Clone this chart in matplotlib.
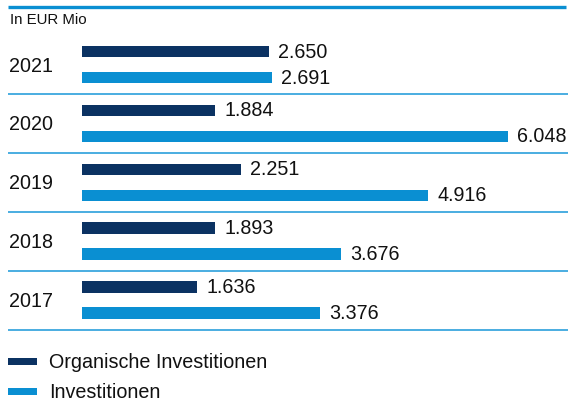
import matplotlib
matplotlib.use("Agg")
import matplotlib.pyplot as plt
from matplotlib.patches import Rectangle

years = ["2021", "2020", "2019", "2018", "2017"]
organic = [2650, 1884, 2251, 1893, 1636]
total = [2691, 6048, 4916, 3676, 3376]
labels_org = ["2.650", "1.884", "2.251", "1.893", "1.636"]
labels_tot = ["2.691", "6.048", "4.916", "3.676", "3.376"]
series_names = ["Organische Investitionen", "Investitionen"]
unit_label = "In EUR Mio"

DARK = "#0b3262"
LIGHT = "#0a8fd2"
SEP = "#3ca7de"

plt.rcParams["font.family"] = ["Liberation Sans", "DejaVu Sans"]

W, H = 570, 401
fig = plt.figure(figsize=(W / 100, H / 100), dpi=100)
ax = fig.add_axes([0, 0, 1, 1])
ax.set_axis_off()

# x mapping: 0 -> px 82, 6048 -> px 508
scale = (508 - 82) / 6048.0
ax.set_xlim(-82 / scale, (W - 82) / scale)
ax.set_ylim(H, 0)

row0 = 64.5
step = 58.9
offset = 13
bh = 11.5
centers = [row0 + i * step for i in range(len(years))]

ax.barh([c - offset for c in centers], organic, height=bh, left=0, color=DARK)
ax.barh([c + offset for c in centers], total, height=bh, left=0, color=LIGHT)

gap = 9.5 / scale
x_year = -73 / scale
fs = 14.2
for c, y, o, t, lo, lt in zip(centers, years, organic, total, labels_org, labels_tot):
    ax.text(x_year, c + 1.5, y, ha="left", va="center", fontsize=fs, color="#111111")
    ax.text(o + gap, c - offset + 0.5, lo, ha="left", va="center", fontsize=fs, color="#111111")
    ax.text(t + gap, c + offset + 0.5, lt, ha="left", va="center", fontsize=fs, color="#111111")
    ax.plot([-74 / scale, (W - 2 - 82) / scale], [c + 29.5, c + 29.5], color=SEP, lw=1.3,
            solid_capstyle="butt")

# top rule
ax.plot([-74 / scale, (W - 4 - 82) / scale], [6.5, 6.5], color=LIGHT, lw=2.4, solid_capstyle="butt")
ax.text(-72 / scale, 20.5, unit_label, ha="left", va="center", fontsize=10.8, color="#111111")

# legend
for i, (name, col) in enumerate(zip(series_names, [DARK, LIGHT])):
    yc = 361 + i * 30.5
    ax.add_patch(Rectangle((-74 / scale, yc - 3.5), 29 / scale, 7, color=col, lw=0))
    ax.text(-33 / scale, yc + 1, name, ha="left", va="center", fontsize=fs, color="#111111")

fig.savefig("out.png", dpi=100)
